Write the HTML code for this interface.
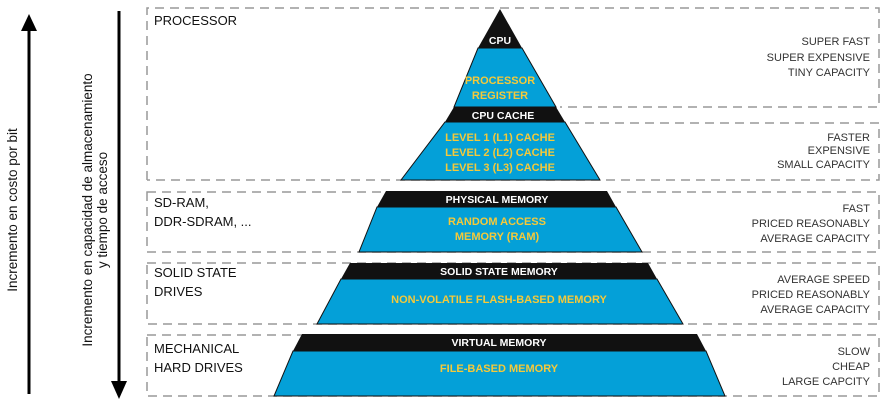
<!DOCTYPE html>
<html><head><meta charset="utf-8"><style>
html,body{margin:0;padding:0;background:#fff}
svg{display:block}
.h{font-family:"Liberation Sans",sans-serif;font-size:13px;fill:#111}
.w{font-family:"Liberation Sans",sans-serif;font-size:10.5px;font-weight:bold;fill:#fff}
.y{font-family:"Liberation Sans",sans-serif;font-size:11px;font-weight:bold;fill:#f5c93a}
.r{font-family:"Liberation Sans",sans-serif;font-size:11px;fill:#333}
.v{font-family:"Liberation Sans",sans-serif;font-size:13.5px;fill:#111}
</style></head><body>
<svg width="882" height="405" viewBox="0 0 882 405" xmlns="http://www.w3.org/2000/svg">
<g fill="none" stroke="#999" stroke-width="1.5" stroke-dasharray="9,6">
<path d="M147 180 V8 H879 V107 H560"/>
<path d="M555 123 H879 V180 H147"/>
<rect x="147" y="192" width="732" height="60"/>
<rect x="147" y="263" width="732" height="61"/>
<rect x="147" y="335" width="732" height="61"/>
</g>
<polygon points="500,9 522,48 478,48" fill="#111"/>
<polygon points="478,48 522,48 556,107 454,107" fill="#04a0d8" stroke="#111" stroke-width="1"/>
<polygon points="454,107 556,107 565,122 445,122" fill="#111"/>
<polygon points="445,122 565,122 600,180 401,180" fill="#04a0d8" stroke="#111" stroke-width="1"/>
<polygon points="386,191 607,191 616,207 377,207" fill="#111"/>
<polygon points="377,207 616,207 642,252 359,252" fill="#04a0d8" stroke="#111" stroke-width="1"/>
<polygon points="350,263 648,263 657,279 341,279" fill="#111"/>
<polygon points="341,279 657,279 683,324 317,324" fill="#04a0d8" stroke="#111" stroke-width="1"/>
<polygon points="302,334 697,334 706,351 293,351" fill="#111"/>
<polygon points="293,351 706,351 725,396 274,396" fill="#04a0d8" stroke="#111" stroke-width="1"/>
<g text-anchor="middle">
<text class="w" x="500" y="44">CPU</text>
<text class="y" x="500" y="84">PROCESSOR</text>
<text class="y" x="500" y="99">REGISTER</text>
<text class="w" x="503" y="119">CPU CACHE</text>
<text class="y" x="500" y="141">LEVEL 1 (L1) CACHE</text>
<text class="y" x="500" y="156">LEVEL 2 (L2) CACHE</text>
<text class="y" x="500" y="171">LEVEL 3 (L3) CACHE</text>
<text class="w" x="497" y="203">PHYSICAL MEMORY</text>
<text class="y" x="497" y="225">RANDOM ACCESS</text>
<text class="y" x="497" y="240">MEMORY (RAM)</text>
<text class="w" x="499" y="275">SOLID STATE MEMORY</text>
<text class="y" x="499" y="303">NON-VOLATILE FLASH-BASED MEMORY</text>
<text class="w" x="499" y="346">VIRTUAL MEMORY</text>
<text class="y" x="499" y="372">FILE-BASED MEMORY</text>
</g>
<text class="h" x="154" y="25">PROCESSOR</text>
<text class="h" x="154" y="207">SD-RAM,</text>
<text class="h" x="154" y="226">DDR-SDRAM, ...</text>
<text class="h" x="154" y="277">SOLID STATE</text>
<text class="h" x="154" y="296">DRIVES</text>
<text class="h" x="154" y="353">MECHANICAL</text>
<text class="h" x="154" y="372">HARD DRIVES</text>
<g text-anchor="end">
<text class="r" x="870" y="45">SUPER FAST</text>
<text class="r" x="870" y="61">SUPER EXPENSIVE</text>
<text class="r" x="870" y="76">TINY CAPACITY</text>
<text class="r" x="870" y="141">FASTER</text>
<text class="r" x="870" y="154">EXPENSIVE</text>
<text class="r" x="870" y="168">SMALL CAPACITY</text>
<text class="r" x="870" y="212">FAST</text>
<text class="r" x="870" y="227">PRICED REASONABLY</text>
<text class="r" x="870" y="242">AVERAGE CAPACITY</text>
<text class="r" x="870" y="283">AVERAGE SPEED</text>
<text class="r" x="870" y="298">PRICED REASONABLY</text>
<text class="r" x="870" y="313">AVERAGE CAPACITY</text>
<text class="r" x="870" y="355">SLOW</text>
<text class="r" x="870" y="370">CHEAP</text>
<text class="r" x="870" y="385">LARGE CAPCITY</text>
</g>
<line x1="29" y1="30" x2="29" y2="394" stroke="#000" stroke-width="3"/>
<polygon points="29,14 21,31 37,31" fill="#000"/>
<line x1="119" y1="11" x2="119" y2="382" stroke="#000" stroke-width="3"/>
<polygon points="119,399 111,381 127,381" fill="#000"/>
<text class="v" transform="translate(17,210) rotate(-90)" text-anchor="middle">Incremento en costo por bit</text>
<text class="v" transform="translate(92,210) rotate(-90)" text-anchor="middle">Incremento en capacidad de almacenamiento</text>
<text class="v" transform="translate(107,210) rotate(-90)" text-anchor="middle">y tiempo de acceso</text>
</svg>
</body></html>
